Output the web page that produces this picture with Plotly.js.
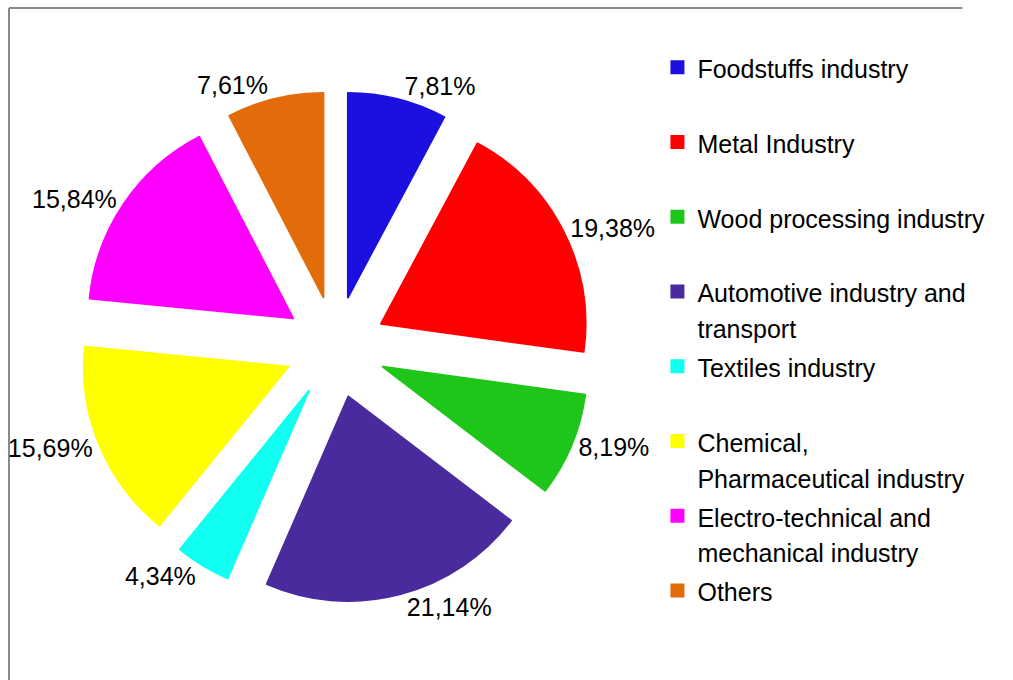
<!DOCTYPE html>
<html>
<head>
<meta charset="utf-8">
<script src="https://cdn.plot.ly/plotly-3.0.1.min.js"></script>
<style>
  html, body { margin: 0; padding: 0; background: #ffffff; overflow: hidden; }
  #chart { width: 1013px; height: 680px; }
</style>
</head>
<body>
<div id="chart"></div>
<script>
// ---- data ----
const categories = [
  'Foodstuffs industry',
  'Metal Industry',
  'Wood processing industry',
  'Automotive industry and<br>transport',
  'Textiles industry',
  'Chemical,<br>Pharmaceutical industry',
  'Electro-technical and<br>mechanical industry',
  'Others'
];
const shares = [7.81, 19.38, 8.19, 21.14, 4.34, 15.69, 15.84, 7.61];
const colors = ['#1c10e0', '#ff0000', '#1ec61a', '#4a2b9d', '#10fff0', '#ffff00', '#ff00ff', '#e36c0a'];

// ---- presentation ----
const FONT = 'Liberation Sans, Arial, sans-serif';
const TEXT_SIZE = 25;
const pctText = shares.map(v => v.toFixed(2).replace('.', ',') + '%');
const legendLabels = categories.map(c => {
  const lines = c.split('<br>');
  while (lines.length < 2) lines.push('&nbsp;');
  return lines.map(l => `<span style="font-size:${TEXT_SIZE}px">${l}</span>`).join('<br>');
});

const trace = {
  type: 'pie',
  labels: legendLabels,
  values: shares,
  text: pctText,
  textinfo: 'text',
  textposition: 'outside',
  textfont: { family: FONT, size: TEXT_SIZE, color: '#000000' },
  sort: false,
  direction: 'clockwise',
  rotation: 0,
  pull: 0.25,
  marker: { colors: colors, line: { width: 2, color: colors } },
  hoverinfo: 'none',
  domain: { x: [0.0789, 0.5835], y: [0.1138, 0.8656] }
};

const FRAME_X = 9 / 1013;
const FRAME_Y = 1 - 8 / 680;
const layout = {
  width: 1013,
  height: 680,
  margin: { l: 0, r: 0, t: 0, b: 0 },
  paper_bgcolor: '#ffffff',
  plot_bgcolor: '#ffffff',
  font: { family: FONT, size: TEXT_SIZE, color: '#000000' },
  showlegend: true,
  legend: {
    x: 0.649, xanchor: 'left',
    y: 0.937, yanchor: 'top',
    valign: 'top',
    font: { family: FONT, size: 27.6, color: '#000000' },
    bgcolor: 'rgba(0,0,0,0)',
    borderwidth: 0
  },
  shapes: [
    { type: 'line', xref: 'paper', yref: 'paper', x0: FRAME_X, x1: FRAME_X, y0: 0, y1: FRAME_Y,
      line: { color: '#8a8a8a', width: 2 }, layer: 'below' },
    { type: 'line', xref: 'paper', yref: 'paper', x0: FRAME_X, x1: 0.95, y0: FRAME_Y, y1: FRAME_Y,
      line: { color: '#8a8a8a', width: 2 }, layer: 'below' }
  ]
};

Plotly.newPlot('chart', [trace], layout, { staticPlot: true, displayModeBar: false });
</script>
</body>
</html>
